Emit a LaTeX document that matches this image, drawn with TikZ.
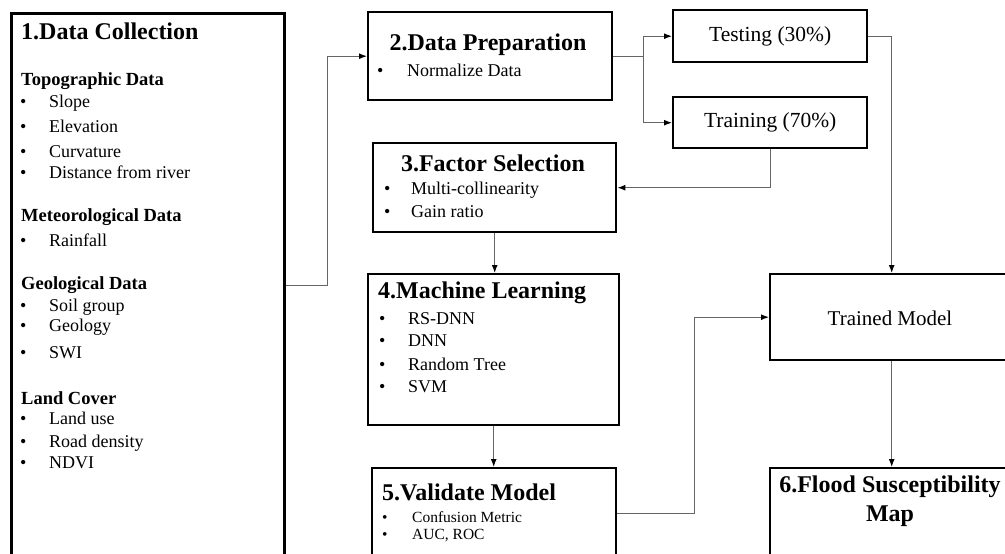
\documentclass[tikz,border=0pt]{standalone}
\usepackage{fontspec}
\setmainfont{Liberation Serif}
\usetikzlibrary{arrows.meta}
\tikzset{stepbox/.style={draw, line width=2.4pt, inner sep=0pt, anchor=north west}}
\tikzset{link/.style={draw=black!60, line width=1.2pt, -{Latex[length=8pt,width=6pt,color=black]}}}
\tikzset{title/.style={inner sep=0pt, font=\fontsize{24}{29}\selectfont\bfseries}}
\tikzset{subhead/.style={anchor=west, inner sep=0pt, font=\fontsize{18.5}{21}\selectfont\bfseries}}
\tikzset{item/.style={anchor=west, inner sep=0pt, font=\fontsize{18}{20}\selectfont}}
\newcommand{\itm}[2][29pt]{\makebox[#1][l]{\textbullet}#2}

\begin{document}
\begin{tikzpicture}[x=1pt, y=-1pt]
            \clip (0,0) rectangle (1005,554);
            % boxes
            \node[stepbox, line width=2.8pt, minimum width=273pt, minimum height=544pt] (dc) at (10,12) {};
            \node[stepbox, minimum width=244pt, minimum height=88pt] (prep) at (367,11) {};
            \node[stepbox, minimum width=194pt, minimum height=52pt] (test) at (672,9) {};
            \node[stepbox, minimum width=194pt, minimum height=51pt] (train) at (672,96) {};
            \node[stepbox, minimum width=243pt, minimum height=89pt] (factor) at (372,142) {};
            \node[stepbox, minimum width=251pt, minimum height=151pt] (ml) at (367,273) {};
            \node[stepbox, minimum width=244pt, minimum height=90pt] (val) at (371,467) {};
            \node[stepbox, minimum width=243pt, minimum height=86pt] (trained) at (769,273) {};
            \node[stepbox, minimum width=243pt, minimum height=90pt] (map) at (769,467) {};

            % 1. data collection
            \node[title, anchor=west] (dct) at (21,31) {1.Data Collection};
            \foreach \y/\t [count=\i] in {81/Topographic Data, 217/Meteorological Data, 285/Geological Data, 398/Land Cover} {
                \node[subhead] (dch\i) at (21,\y) {\t};
            }
            \foreach \y/\t [count=\i] in {103/Slope, 126/Elevation, 152/Curvature, 172/Distance from river, 240/Rainfall, 307/Soil group, 327/Geology, 353/SWI, 418/Land use, 443/Road density, 463/NDVI} {
                \node[item] (dci\i) at (20,\y) {\itm{\t}};
            }

            % 2.-5.
            \node[title] (prept) at (488,45) {2.Data Preparation};
            \node[item] (prepi) at (377,70) {\itm[30pt]{Normalize Data}};
            \node[title] (factort) at (493,163) {3.Factor Selection};
            \foreach \y/\t [count=\i] in {190/Multi-collinearity, 212/Gain ratio} {
                \node[item] (factori\i) at (384,\y) {\itm[27pt]{\t}};
            }
            \node[title, anchor=west] (mlt) at (378,293) {4.Machine Learning};
            \foreach \y/\t [count=\i] in {319/RS-DNN, 341/DNN, 364/Random Tree, 387/SVM} {
                \node[item] (mli\i) at (379,\y) {\itm{\t}};
            }
            \node[title, anchor=west] (valt) at (382,492) {5.Validate Model};
            \foreach \y/\t [count=\i] in {517/Confusion Metric, 536/{AUC, ROC}} {
                \node[item, font=\fontsize{15.5}{18}\selectfont] (vali\i) at (382,\y) {\itm[30pt]{\t}};
            }

            % split and model
            \node[inner sep=0pt, font=\fontsize{21.5}{24}\selectfont] (testt) at (test) {Testing (30\%)};
            \node[inner sep=0pt, font=\fontsize{21.5}{24}\selectfont] (traint) at (train) {Training (70\%)};
            \node[inner sep=0pt, font=\fontsize{21}{24}\selectfont] (trainedt) at (890,318) {Trained Model};
            \node[title, anchor=north, align=center] (mapt) at (890,476) {6.Flood Susceptibility\\Map};

            % connectors
            \draw[link] (dc.east) -- ++(42,0) |- (prep.west);
            \draw[link] (prep.east) -- ++(30,0) |- (test.west);
            \draw[link] (prep.east) -- ++(30,0) |- (train.west);
            \draw[link] (train.south) |- (factor.east);
            \draw[link] (factor.south) -- (factor.south |- ml.north);
            \draw[link] (ml.south) -- (ml.south |- val.north);
            \draw[link] (test.east) -| (trained.north);
            \draw[link] (val.east) -- ++(77,0) |- (trained.west);
            \draw[link] (trained.south) -- (map.north);
        \end{tikzpicture}
\end{document}
